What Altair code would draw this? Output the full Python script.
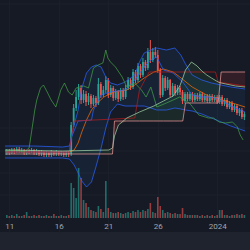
import altair as alt
import pandas as pd

START = pd.Timestamp("2023-12-10 18:00:00")   # first 6h candle


def stamp(t):
    return START + pd.Timedelta(hours=6 * t)


# ---------------- candles (price units) ----------------
candle_open = [97,99,97,100,98,101,99,100,97,99,98,100,97,99,96,98,95,97,95,98,96,98,96,97,95,97,
               96,125,142,153,162,150,156,148,154,146,
               152,147,166,155,160,170,155,162,152,158,
               151,160,153,162,170,163,178,170,184,175,
               188,182,198,190,198,195,180,155,172,162,
               170,155,164,157,162,158,149,156,151,156,
               150,155,151,156,150,154,149,154,150,153,
               148,153,146,150,143,147,140,144,137,140,
               133]
candle_close = [99,97,100,98,101,99,100,97,99,98,100,97,99,96,98,95,97,95,98,96,98,96,97,95,97,96,
                125,142,153,162,150,156,148,154,146,152,
                147,166,155,160,170,155,162,152,158,151,
                160,153,162,170,163,178,170,184,175,188,
                182,198,190,198,195,180,155,172,162,170,
                155,164,157,162,158,149,156,151,156,150,
                155,151,156,150,154,149,154,150,153,148,
                153,146,150,143,147,140,144,137,140,133,
                136]
candle_high = [101,101,102,102,103,103,102,101,100,101,102,101,101,100,100,99,99,98,100,99,100,99,99,98,99,99,
               128,146,160,166,165,160,159,157,156,155,
               154,172,168,164,174,172,165,164,161,160,
               162,162,165,173,172,181,180,187,186,192,
               190,202,210,202,203,200,182,175,174,173,
               171,167,166,165,164,160,158,158,158,158,
               157,157,158,158,156,156,156,156,155,155,
               155,155,152,152,149,149,146,146,142,142,
               138]
candle_low = [95,95,96,96,97,97,97,95,95,96,97,95,95,94,94,93,93,93,93,94,94,94,94,93,93,93,
              94,123,139,150,146,147,144,145,142,144,
              143,145,152,153,157,152,153,149,150,148,
              149,150,151,160,160,161,167,168,172,173,
              179,180,187,188,192,177,152,153,159,160,
              153,153,154,155,155,146,147,149,149,148,
              148,149,149,148,148,147,147,148,148,146,
              146,144,144,141,141,138,138,135,134,131,
              130]
volume = [3,2,3,2,4,2,2,3,6,2,2,3,2,3,2,2,3,2,2,4,2,2,3,2,2,3,
          35,30,20,50,40,18,15,11,8,7,
          6,12,9,6,37,10,6,5,5,6,
          5,4,5,6,5,7,6,8,6,8,
          7,9,15,6,5,21,12,8,5,6,
          5,4,5,4,4,10,4,3,3,3,
          3,3,2,3,2,3,2,3,2,3,
          8,8,3,3,2,3,3,4,3,4,
          3]

# ---------------- Bollinger bands (t in 6h periods) ----------------
bb_t = [-0.74,10.9,22.5,25.3,27.2,28.8,30.3,32.2,34.2,36.1,38.1,40.0,41.9,44.7,47.8,
        51.7,53.6,55.5,58.2,60.6,64.5,67.9,70.3,72.2,74.9,78.8,82.7,86.6,90.5,96.3]
bb_upper = [104,104,103,104,125,140,162,177,183,185,183,173,167,165,168,
            175,188,197,200,202,200,202,195,186,175,170,167,165,163,161]
bb_lower = [92,92,92,91,85,77,69,63,68,84,102,122,138,146,144,
            144,144,144,142,140,140,142,141,140,139,136,132,128,124,119]
basis_t = [-0.74,25.3,27.2,28.8,30.3,32.2,34.2,36.1,39.2,43.1,48.5,51.7,55.5,59.4,63.3,
           67.2,69.9,74.9,81.5,88.5,96.3]
basis = [98,98,100,107,118,130,140,146,153,158,160,165,172,178,181,
         178,173,163,154,149,143]

# ---------------- Ichimoku ----------------
conv_t = [-0.74,25.3,26.0,28.8,34.2,35.0,38.1,41.9,47.8,49.7,51.7,55.5,58.2,60.6,63.3,
          67.2,71.1,74.9,78.8,82.7,86.6,90.5,94.3,96.3]
conv = [98,98,112,129,130,140,155,158,160,165,170,183,190,193,180,
        177,168,155,153,153,150,144,140,138]
kijun_t = [-0.74,25.3,26.0,27.2,51.7,53.6,57.5,84.3,85.4,96.3]
kijun = [98,98,112,129,132,160,178,178,168,164]
lag_t = [-0.74,3.1,7.0,9.0,10.1,11.3,12.1,13.6,14.8,16.3,17.9,19.8,21.8,23.3,24.9,26.4,
         28.0,29.5,31.1,33.0,35.0,36.9,38.8,40.0,40.8,41.9,43.9,46.6,48.5,51.7,54.4,56.3,
         58.2,60.6,64.5,69.9,73.8,77.6,81.5,83.5,85.8,88.5,91.2,93.2,94.3,95.5]
lag = [99,100,98,102,120,140,150,162,165,158,150,143,160,167,158,155,
       162,163,164,162,182,185,187,200,192,188,183,173,163,167,160,153,
       163,143,147,153,147,135,132,132,128,127,128,123,115,110]
cloud_t = [-0.74,22.5,41.2,42.7,43.5,45.1,48.5,53.6,59.4,63.3,67.2,69.9,71.1,72.2,74.6,
           76.9,78.8,80.8,82.7,85.4,86.6,88.5,92.4,96.3]
span_a = [100,99,100,102,114,125,132,138,144,149,154,164,172,180,188,
          184,179,175,172,168,167,166,164,163]
span_b = [96,96,96,96,129,129,129,129,129,129,129,129,129,147,147,
          147,147,147,147,147,178,178,178,178]

grid_levels = [246, 122, 99, 77, 55]

tick_days = [(2023, 12, 11), (2023, 12, 16), (2023, 12, 21), (2023, 12, 26), (2024, 1, 1)]

# ---------------- tables ----------------
candles = pd.DataFrame({
    "time": [stamp(i) for i in range(len(candle_open))],
    "open": candle_open, "close": candle_close,
    "high": candle_high, "low": candle_low, "vol": volume,
})
bb = pd.DataFrame({"time": [stamp(t) for t in bb_t], "upper": bb_upper, "lower": bb_lower})
cloud = pd.DataFrame({"time": [stamp(t) for t in cloud_t], "a": span_a, "b": span_b})

rows = []
for name, ts, ps in [("bb_upper", bb_t, bb_upper), ("bb_lower", bb_t, bb_lower),
                     ("basis", basis_t, basis), ("conv", conv_t, conv),
                     ("kijun", kijun_t, kijun), ("lag", lag_t, lag),
                     ("span_a", cloud_t, span_a), ("span_b", cloud_t, span_b)]:
    for t, p in zip(ts, ps):
        rows.append({"time": stamp(t), "p": p, "s": name})
lines = pd.DataFrame(rows)
grid = pd.DataFrame({"p": grid_levels})

UP = "#26a69a"
DOWN = "#ef5350"
BG = "#161a25"
STRIP = "#1f232e"

xscale = alt.Scale(domain=[alt.DateTime(year=2023, month=12, date=10, hours=13, minutes=31),
                           alt.DateTime(year=2024, month=1, date=3, hours=19, minutes=29)])
xaxis = alt.Axis(
    values=[alt.DateTime(year=y, month=m, date=d) for (y, m, d) in tick_days],
    labelExpr="month(datum.value) == 0 ? timeFormat(datum.value, '%Y') : timeFormat(datum.value, '%d')",
    domain=False, ticks=False, grid=True, gridColor="#1b1f2a",
    labelColor="#a3a6af", labelFont="Roboto", labelFontSize=8, labelPadding=4,
    offset=-14, labelFlush=False, labelOverlap=False, title=None,
)
X = alt.X("time:T", scale=xscale, axis=xaxis)
price_scale = alt.Scale(domain=[18, 250], nice=False, zero=False)
vol_scale = alt.Scale(domain=[0, 100], range=[218, 118], nice=False, zero=True)
updown = alt.condition("datum.close >= datum.open", alt.value(UP), alt.value(DOWN))

grid_layer = alt.Chart(grid).mark_rule(color="#1d212c", strokeWidth=1).encode(
    y=alt.Y("p:Q", scale=price_scale, axis=None))

cloud_green = alt.Chart(cloud).transform_calculate(lo="min(datum.a, datum.b)").mark_area(
    color="#43a047", opacity=0.12).encode(
    x=X, y=alt.Y("a:Q", scale=price_scale, axis=None), y2="lo:Q")
cloud_red = alt.Chart(cloud).transform_calculate(lo="min(datum.a, datum.b)").mark_area(
    color="#f44336", opacity=0.12).encode(
    x=X, y=alt.Y("b:Q", scale=price_scale, axis=None), y2="lo:Q")
bb_fill = alt.Chart(bb).mark_area(color="#2196f3", opacity=0.08).encode(
    x=X, y=alt.Y("upper:Q", scale=price_scale, axis=None), y2="lower:Q")

vol_layer = alt.Chart(candles).mark_bar(size=1.6, opacity=0.6).encode(
    x=X, y=alt.Y("vol:Q", scale=vol_scale, axis=None), color=updown)

wicks = alt.Chart(candles).mark_rule(strokeWidth=1).encode(
    x=X, y=alt.Y("low:Q", scale=price_scale, axis=None), y2="high:Q", color=updown)
bodies = alt.Chart(candles).mark_bar(size=1.8).encode(
    x=X, y=alt.Y("open:Q", scale=price_scale, axis=None), y2="close:Q", color=updown)

series_names = ["bb_upper", "bb_lower", "basis", "conv", "kijun", "lag", "span_a", "span_b"]
series_colors = ["#2962ff", "#2962ff", "#ff6d00", "#2962ff", "#b71c1c", "#43a047", "#a5d6a7", "#ef9a9a"]
line_layer = alt.Chart(lines).mark_line(strokeWidth=1, opacity=0.72).encode(
    x=X, y=alt.Y("p:Q", scale=price_scale, axis=None),
    color=alt.Color("s:N", scale=alt.Scale(domain=series_names, range=series_colors), legend=None),
    order="time:T")

chart = alt.layer(
    grid_layer, cloud_green, cloud_red, bb_fill, vol_layer, wicks, bodies, line_layer
).resolve_scale(y="independent", color="independent").properties(
    width=250, height=232, autosize="none",
    padding={"left": 0, "right": 0, "top": 0, "bottom": 18},
    background=STRIP,
).configure_view(stroke=None, fill=BG)

chart.save("out.html", embed_options={"renderer": "svg", "actions": False})
